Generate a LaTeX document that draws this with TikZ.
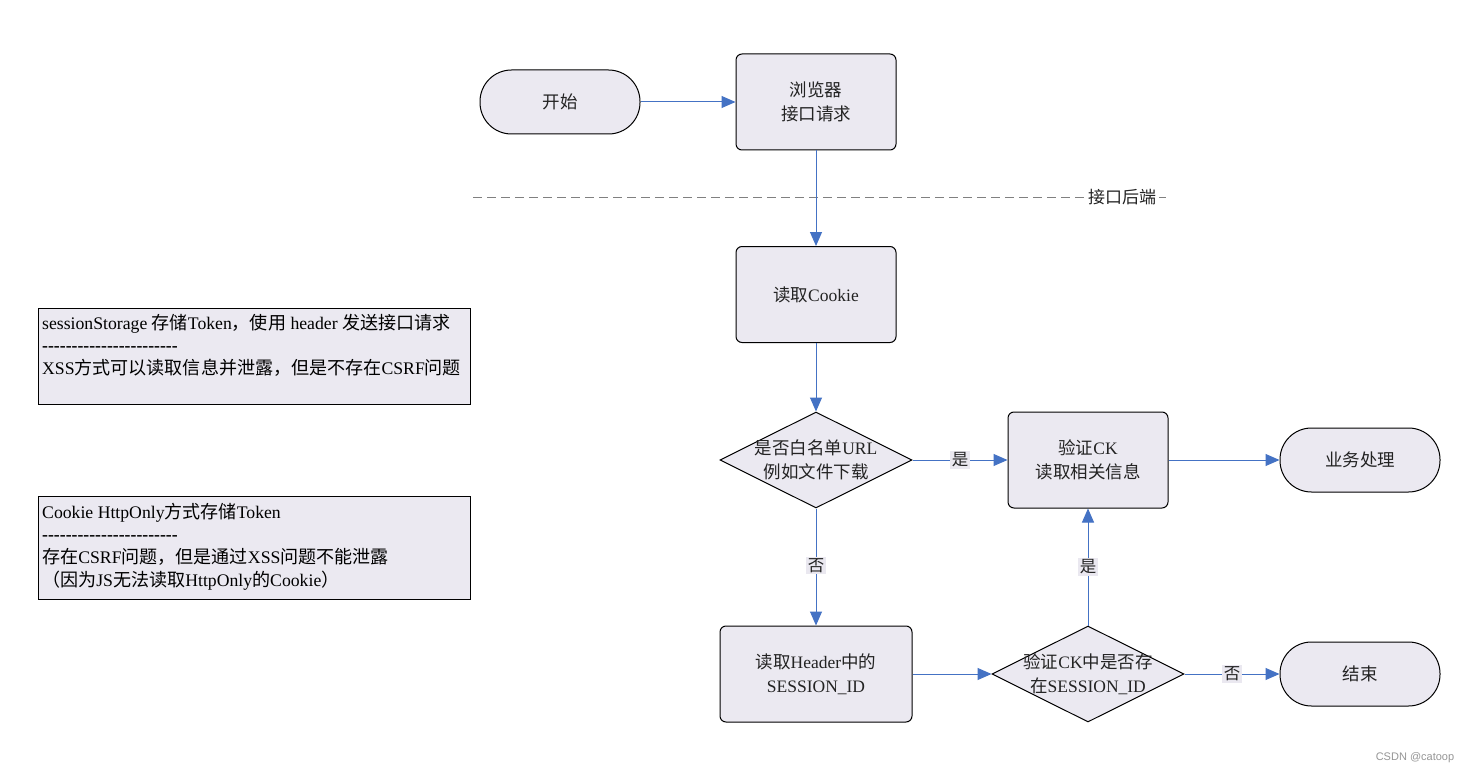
\documentclass[tikz,border=0pt]{standalone}
\usepackage{fontspec}
\setmainfont{Liberation Serif}
\newfontfamily\cjk{Noto Sans CJK SC}
\newfontfamily\cjkb{Noto Sans CJK SC}[Scale=1.02]
\newfontfamily\wmfont{Liberation Sans}
\usetikzlibrary{arrows.meta,shapes.geometric}
\newcommand\zh[1]{{\cjk #1}}
\newcommand\zb[1]{{\cjkb #1}}
\definecolor{nodefill}{RGB}{235,233,241}
\definecolor{labelfill}{RGB}{234,232,240}
\definecolor{arrowblue}{RGB}{68,114,196}
\definecolor{textc}{RGB}{35,35,35}
\definecolor{dashgray}{RGB}{128,128,128}
\definecolor{wmgray}{RGB}{150,150,150}
\newcommand\dashline{\textbf{-{}-{}-{}-{}-{}-{}-{}-{}-{}-{}-{}-{}-{}-{}-{}-{}-{}-{}-{}-{}-{}-{}-}}
\begin{document}
\begin{tikzpicture}[x=1pt,y=-1pt,
  base/.style={draw=black, line width=1pt, fill=nodefill, font=\fontsize{17.5}{23.5}\selectfont, text=textc, align=center, inner sep=0pt},
  term/.style={base, rectangle, rounded corners=31.5pt, minimum width=160pt, minimum height=64pt},
  proc/.style={base, rectangle, rounded corners=6pt, minimum width=160pt, minimum height=96pt},
  wproc/.style={proc, minimum width=192pt},
  dec/.style={base, diamond, aspect=2, minimum width=192pt, minimum height=96pt},
  dectext/.style={font=\fontsize{17.5}{23.5}\selectfont, text=textc, align=center, inner sep=0pt},
  conn/.style={draw=arrowblue, line width=1pt, -{Triangle[length=14pt,width=12pt]}},
  elabel/.style={fill=labelfill, inner sep=1.5pt, font=\fontsize{16.5}{18}\selectfont\cjk, text=textc},
  notebox/.style={draw=black, line width=1pt, fill=nodefill, rectangle, anchor=north west, minimum width=432pt, inner sep=0pt},
  notetext/.style={anchor=north west, align=left, inner sep=0pt, font=\fontsize{17.7}{22.6}\selectfont, text=black},
]
\useasboundingbox (0,0) rectangle (1470,773);
\fill[white] (0,0) rectangle (1470,773);

% dashed separator
\coordinate (sepL) at (473,197);
\coordinate (sepR) at (1166,197);
\draw[dashgray, line width=1pt, dash pattern=on 9pt off 5pt] (sepL) -- (sepR);
\node[fill=white, inner sep=2pt, font=\fontsize{17}{18}\selectfont\cjk, text=textc] (backend) at (1122,197) {接口后端};

% main nodes
\node[term] (start) at (560,102) {\zh{开始}};
\node[proc] (browser) at (816,102) {\zh{浏览器}\\\zh{接口请求}};
\node[proc] (cookie) at (816,294.5) {\zh{读取}Cookie};
\node[dec] (d1) at (816,460) {};
\node[dectext] (d1t) at (d1.center) {\zh{是否白名单}URL\\\zh{例如文件下载}};
\node[proc] (ck) at (1088,460) {\zh{验证}CK\\\zh{读取相关信息}};
\node[term] (biz) at (1360,460) {\zh{业务处理}};
\node[wproc] (header) at (816,674) {\zh{读取}Header\zh{中的}\\SESSION\_ID};
\node[dec] (d2) at (1088,674) {};
\node[dectext] (d2t) at (d2.center) {\zh{验证}CK\zh{中是否存}\\\zh{在}SESSION\_ID};
\node[term] (end) at (1360,674) {\zh{结束}};

% connectors
\draw[conn] (start.east) -- (browser.west);
\draw[conn] (browser.south) -- (cookie.north);
\draw[conn] (cookie.south) -- (d1.north);
\draw[conn] (d1.east) -- node[elabel] (l1) {是} (ck.west);
\draw[conn] (ck.east) -- (biz.west);
\draw[conn] (d1.south) -- node[elabel, pos=0.49] (l2) {否} (header.north);
\draw[conn] (header.east) -- (d2.west);
\draw[conn] (d2.north) -- node[elabel, pos=0.5] (l3) {是} (ck.south);
\draw[conn] (d2.east) -- node[elabel] (l4) {否} (end.west);

% notes
\node[notebox, minimum height=96pt] (note1) at (38,308) {};
\node[notetext] (note1t) at (42,313) {\rule{0pt}{16pt}sessionStorage \zb{存储}Token\zb{，使用} header \zb{发送接口请求}\\\dashline\\XSS\zb{方式可以读取信息并泄露，但是不存在}CSRF\zb{问题}};
\node[notebox, minimum height=103pt] (note2) at (38,496) {};
\node[notetext] (note2t) at (42,502) {\rule{0pt}{16pt}Cookie HttpOnly\zb{方式存储}Token\\\dashline\\\zb{存在}CSRF\zb{问题，但是通过}XSS\zb{问题不能泄露}\\\zb{（因为}JS\zb{无法读取}HttpOnly\zb{的}Cookie\zb{）}};

% watermark
\node[font=\fontsize{11}{13}\selectfont\wmfont, text=wmgray, inner sep=0pt] (wm) at (1415,758) {CSDN @catoop};
\end{tikzpicture}
\end{document}
